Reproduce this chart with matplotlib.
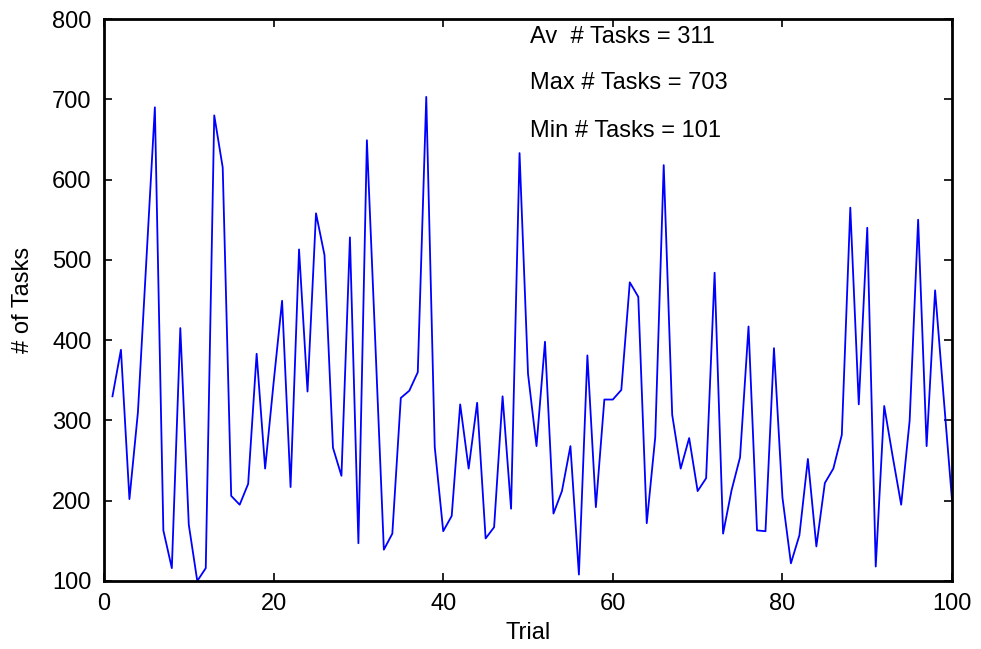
import numpy as np
import matplotlib.pyplot as plt

plt.rcParams['font.family'] = ['Liberation Sans', 'DejaVu Sans']

trials = np.arange(1, 101)
tasks = [330, 388, 202, 310, 500, 690, 163, 116, 415, 170,
         100, 116, 680, 615, 206, 195, 221, 383, 240, 347,
         449, 217, 513, 336, 558, 506, 266, 231, 528, 147,
         649, 395, 139, 159, 328, 337, 360, 703, 267, 162,
         181, 320, 240, 322, 153, 167, 330, 190, 633, 358,
         268, 398, 184, 212, 268, 108, 381, 192, 326, 326,
         338, 472, 454, 172, 279, 618, 307, 240, 278, 212,
         228, 484, 159, 213, 254, 417, 163, 162, 390, 204,
         122, 157, 252, 143, 222, 240, 282, 565, 320, 540,
         118, 318, 255, 195, 300, 550, 268, 462, 330, 200]

stats = ["Av  # Tasks = 311", "Max # Tasks = 703", "Min # Tasks = 101"]
stat_y = [777, 720, 661]

fig = plt.figure(figsize=(9.81, 6.49), dpi=100)
ax = fig.add_axes([0.106, 0.1048, 0.8645, 0.8659])
ax.plot(trials, tasks, color='#0000ff', lw=1.3)

ax.set_xlim(0, 100)
ax.set_ylim(100, 800)
ax.set_xticks([0, 20, 40, 60, 80, 100])
ax.set_yticks(range(100, 801, 100))
ax.tick_params(direction='in', length=6, width=1.2, labelsize=17,
               top=True, right=True, pad=9)
for s in ax.spines.values():
    s.set_linewidth(2)

ax.set_xlabel('Trial', fontsize=17, labelpad=5)
ax.set_ylabel('# of Tasks', fontsize=17, labelpad=13)

for txt, y in zip(stats, stat_y):
    ax.text(50.2, y, txt, fontsize=17, va='center', ha='left')

fig.savefig('out.png', dpi=100)
